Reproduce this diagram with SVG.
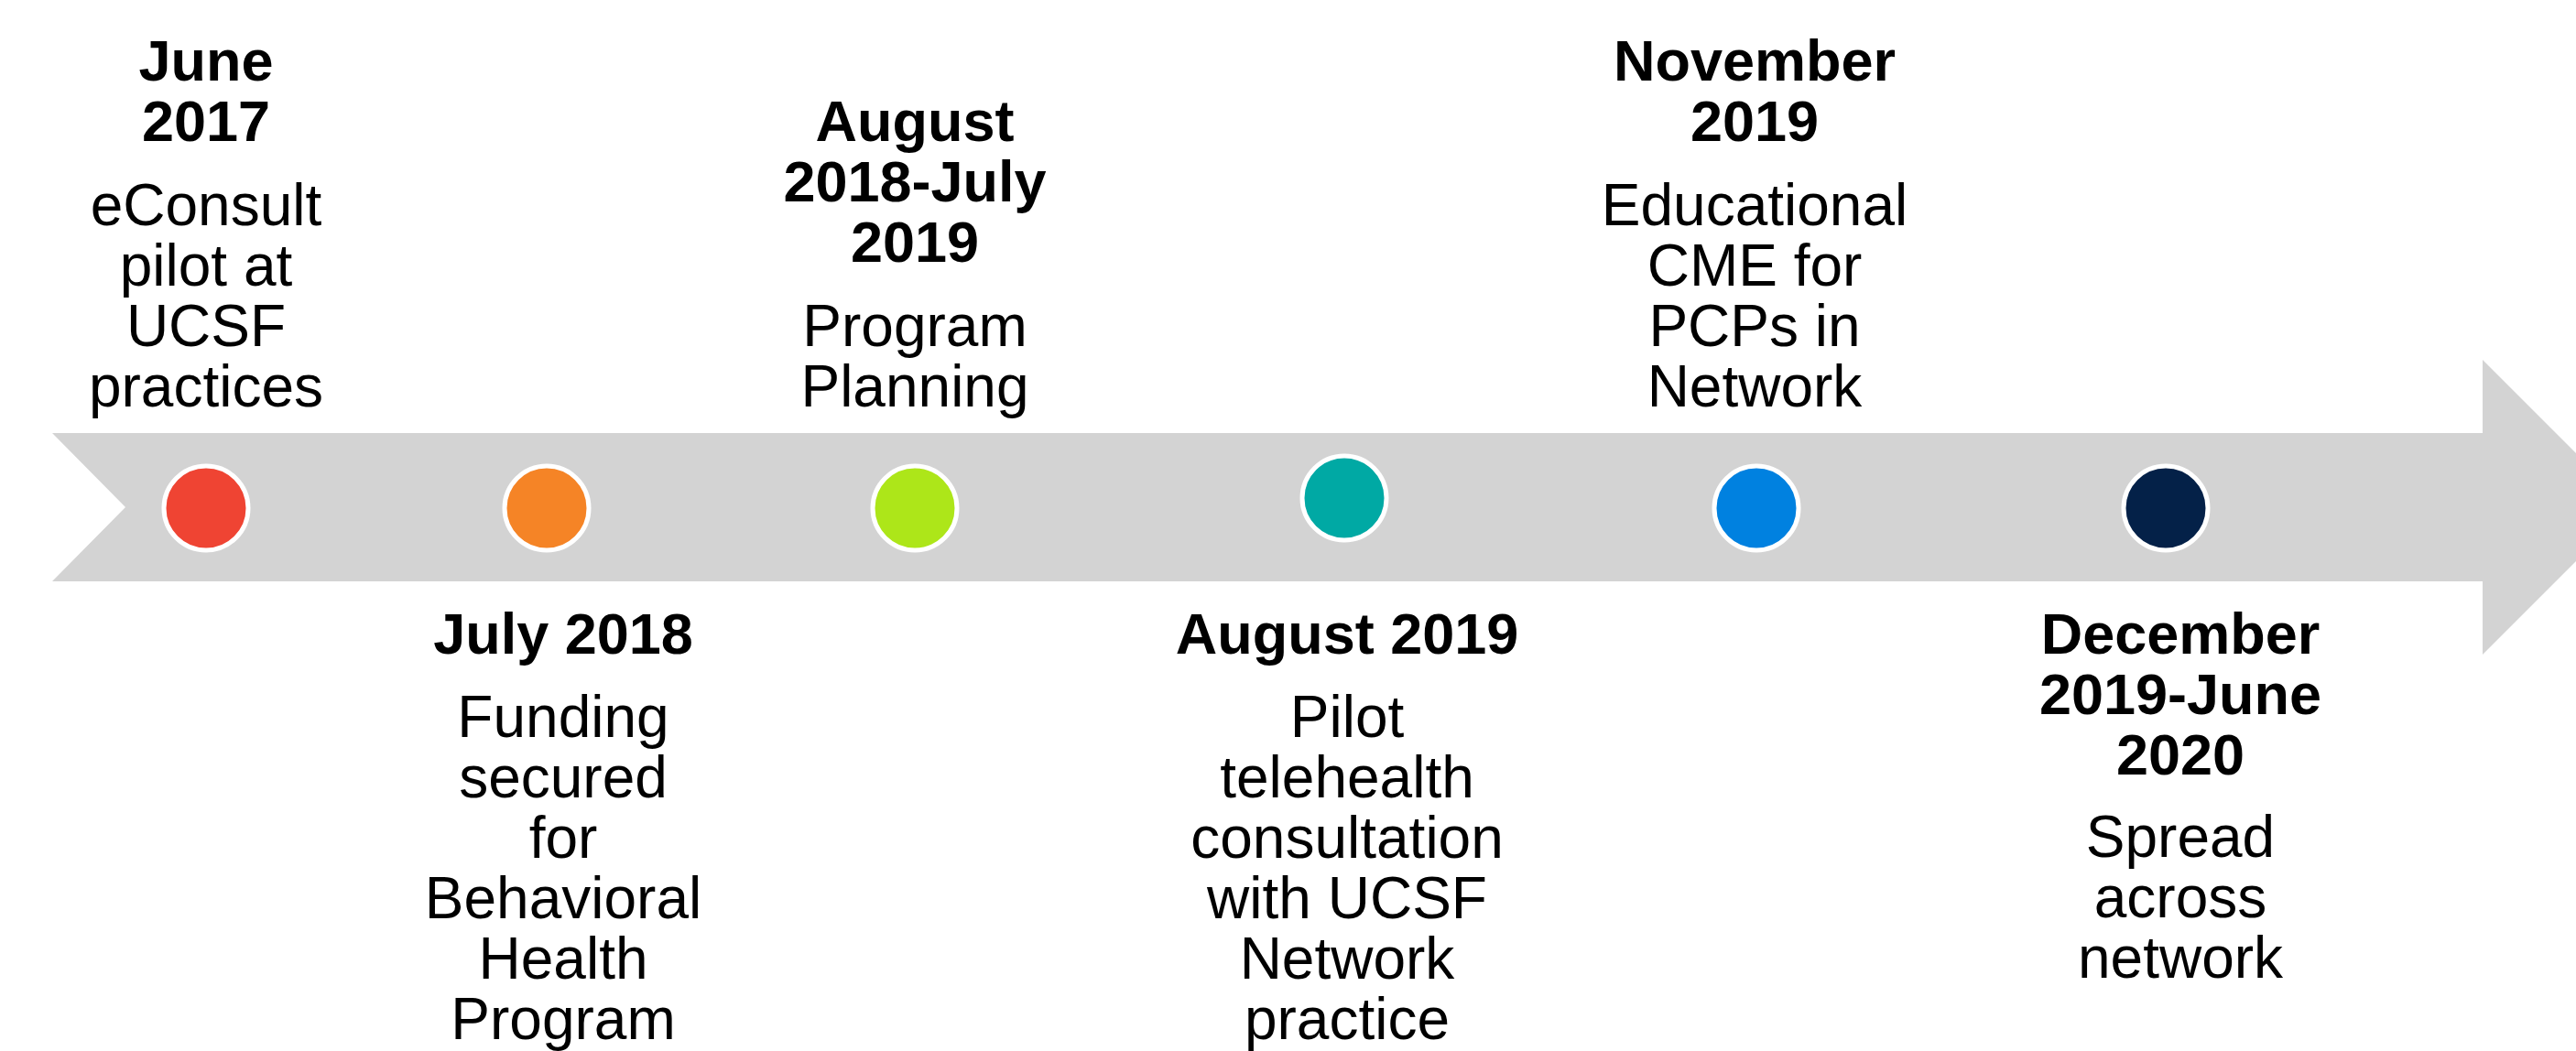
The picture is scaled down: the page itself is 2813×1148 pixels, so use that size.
<svg xmlns="http://www.w3.org/2000/svg" width="2813" height="1148" viewBox="0 0 2813 1148">
  <style>
    .bg { fill: #ffffff; }
    .arrow { fill: #d3d3d3; }
    .dot { stroke: #ffffff; stroke-width: 5; }
    text { font-family: "Liberation Sans", Arial, sans-serif; font-size: 64px; fill: #000000; text-anchor: middle; }
    .date { font-weight: bold; font-size: 63px; }
  </style>

  <rect class="bg" x="0" y="0" width="2813" height="1148"/>

  <!-- timeline backbone: notched tail on the left, head running off the right edge -->
  <g id="connectors">
    <polygon class="arrow" points="57,473 2711,473 2711,393 2872,554 2711,715 2711,635 57,635 137,554"/>
  </g>

  <!-- milestones -->
  <g id="m-2017-06">
    <circle class="dot" cx="225" cy="555" r="46" fill="#ef4433"/>
    <text x="225" y="88" class="date">June</text>
    <text x="225" y="154" class="date">2017</text>
    <text x="225" y="246">eConsult</text>
    <text x="225" y="312">pilot at</text>
    <text x="225" y="378">UCSF</text>
    <text x="225" y="444">practices</text>
  </g>

  <g id="m-2018-07">
    <circle class="dot" cx="597" cy="555" r="46" fill="#f58426"/>
    <text x="615" y="714" class="date">July 2018</text>
    <text x="615" y="805">Funding</text>
    <text x="615" y="871">secured</text>
    <text x="615" y="937">for</text>
    <text x="615" y="1003">Behavioral</text>
    <text x="615" y="1069">Health</text>
    <text x="615" y="1135">Program</text>
  </g>

  <g id="m-2018-08">
    <circle class="dot" cx="999" cy="555" r="46" fill="#ade619"/>
    <text x="999" y="154" class="date">August</text>
    <text x="999" y="220" class="date">2018-July</text>
    <text x="999" y="286" class="date">2019</text>
    <text x="999" y="378">Program</text>
    <text x="999" y="444">Planning</text>
  </g>

  <g id="m-2019-08">
    <circle class="dot" cx="1468" cy="544" r="46" fill="#00a9a4"/>
    <text x="1471" y="714" class="date">August 2019</text>
    <text x="1471" y="805">Pilot</text>
    <text x="1471" y="871">telehealth</text>
    <text x="1471" y="937">consultation</text>
    <text x="1471" y="1003">with UCSF</text>
    <text x="1471" y="1069">Network</text>
    <text x="1471" y="1135">practice</text>
  </g>

  <g id="m-2019-11">
    <circle class="dot" cx="1918" cy="555" r="46" fill="#0081e0"/>
    <text x="1916" y="88" class="date">November</text>
    <text x="1916" y="154" class="date">2019</text>
    <text x="1916" y="246">Educational</text>
    <text x="1916" y="312">CME for</text>
    <text x="1916" y="378">PCPs in</text>
    <text x="1916" y="444">Network</text>
  </g>

  <g id="m-2019-12">
    <circle class="dot" cx="2365" cy="555" r="46" fill="#042148"/>
    <text x="2381" y="714" class="date">December</text>
    <text x="2381" y="780" class="date">2019-June</text>
    <text x="2381" y="846" class="date">2020</text>
    <text x="2381" y="936">Spread</text>
    <text x="2381" y="1002">across</text>
    <text x="2381" y="1068">network</text>
  </g>
</svg>
